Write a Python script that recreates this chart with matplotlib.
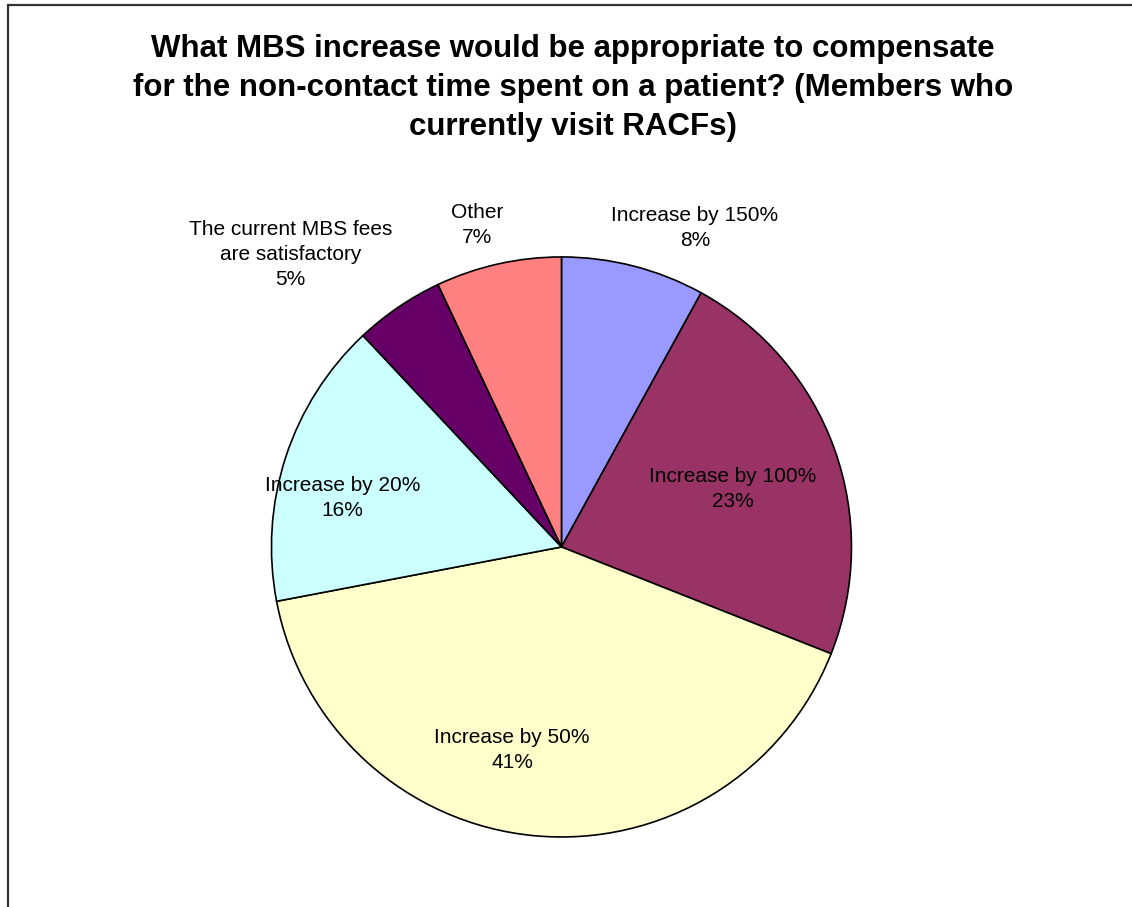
import matplotlib
matplotlib.use("Agg")
import matplotlib.pyplot as plt
from matplotlib.patches import Rectangle

plt.rcParams['font.family'] = ['Liberation Sans', 'DejaVu Sans']

# survey responses, clockwise from 12 o'clock
categories = ["Increase by 150%", "Increase by 100%", "Increase by 50%",
              "Increase by 20%", "The current MBS fees\nare satisfactory", "Other"]
shares = [8, 23, 41, 16, 5, 7]

colors = ['#9999FF', '#993366', '#FFFFCC', '#CCFFFF', '#660066', '#FF8080']
# label anchors in pie units (radius = 1)
label_xy = [(0.46, 1.10), (0.59, 0.20), (-0.17, -0.70),
            (-0.755, 0.17), (-0.935, 1.01), (-0.29, 1.11)]

title = ("What MBS increase would be appropriate to compensate\n"
         "for the non-contact time spent on a patient? (Members who\n"
         "currently visit RACFs)")

fig = plt.figure(figsize=(11.32, 9.07), dpi=100)
fig.patch.set_facecolor('white')

# chart area border (open to the right and bottom)
fig.add_artist(Rectangle((8 / 1132, -0.1), 1.2, 1.1 - 4.5 / 907,
                         transform=fig.transFigure, fill=False,
                         edgecolor='#333333', linewidth=1.6, clip_on=False))

ax = fig.add_axes([0.2398, 0.0772, 0.5124, 0.6395])
ax.pie(shares, colors=colors, startangle=90, counterclock=False, radius=1,
       wedgeprops=dict(edgecolor='black', linewidth=1.2))
ax.set_xlim(-1, 1)
ax.set_ylim(-1, 1)
ax.set_aspect('equal')
ax.axis('off')

for name, val, (x, y) in zip(categories, shares, label_xy):
    ax.text(x, y, f"{name}\n{val}%", ha='center', va='center', fontsize=15,
            linespacing=1.4, color='black', clip_on=False)

fig.text(0.506, 0.903, title, ha='center', va='center', fontsize=22.5,
         fontweight='bold', linespacing=1.4)

fig.savefig("out.png", dpi=100)
